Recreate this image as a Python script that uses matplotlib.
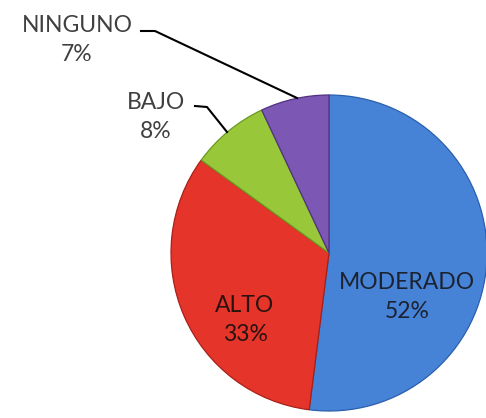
import matplotlib
matplotlib.use("Agg")
import matplotlib.pyplot as plt

# datos del grafico
categorias = ["MODERADO", "ALTO", "BAJO", "NINGUNO"]
porcentajes = [52, 33, 8, 7]
colores = ["#4683d6", "#e5352a", "#98c83a", "#7c57b3"]
bordes = ["#2a5fae", "#a82018", "#6a9a20", "#4f3380"]

W, H = 486, 418
fig = plt.figure(figsize=(W / 100, H / 100), dpi=100)
ax = fig.add_axes([0, 0, 1, 1])

cx, cy, r = 329, H - 253, 158
wedges, _ = ax.pie(porcentajes, colors=colores, startangle=90, counterclock=False,
                   center=(cx, cy), radius=r, frame=True,
                   wedgeprops=dict(linewidth=0.9))
for w, b in zip(wedges, bordes):
    w.set_edgecolor(b)
ax.set_xlim(0, W)
ax.set_ylim(0, H)
ax.set_aspect("equal")
ax.axis("off")

fs = 16.5
fam = ["Lato", "DejaVu Sans"]
ls = 1.5
# etiquetas dentro
ax.text(407, H - 297, categorias[0] + "\n" + str(porcentajes[0]) + "%", ha="center", va="center",
        fontsize=fs, family=fam, color="#1c2230", linespacing=ls)
ax.text(245, H - 320, categorias[1] + "\n" + str(porcentajes[1]) + "%", ha="center", va="center",
        fontsize=fs, family=fam, color="#2a1210", linespacing=ls)
# etiquetas fuera
ax.text(156, H - 117, categorias[2] + "\n" + str(porcentajes[2]) + "%", ha="center", va="center",
        fontsize=fs, family=fam, color="#404040", linespacing=ls)
ax.text(77, H - 40, categorias[3] + "\n" + str(porcentajes[3]) + "%", ha="center", va="center",
        fontsize=fs, family=fam, color="#404040", linespacing=ls)

# lineas guia
ax.plot([141, 155, 297], [H - 31, H - 31, H - 98], color="black", lw=1.5)
ax.plot([195, 207, 227], [H - 106, H - 107, H - 132], color="black", lw=1.5)

fig.savefig("out.png", dpi=100, facecolor="white")
